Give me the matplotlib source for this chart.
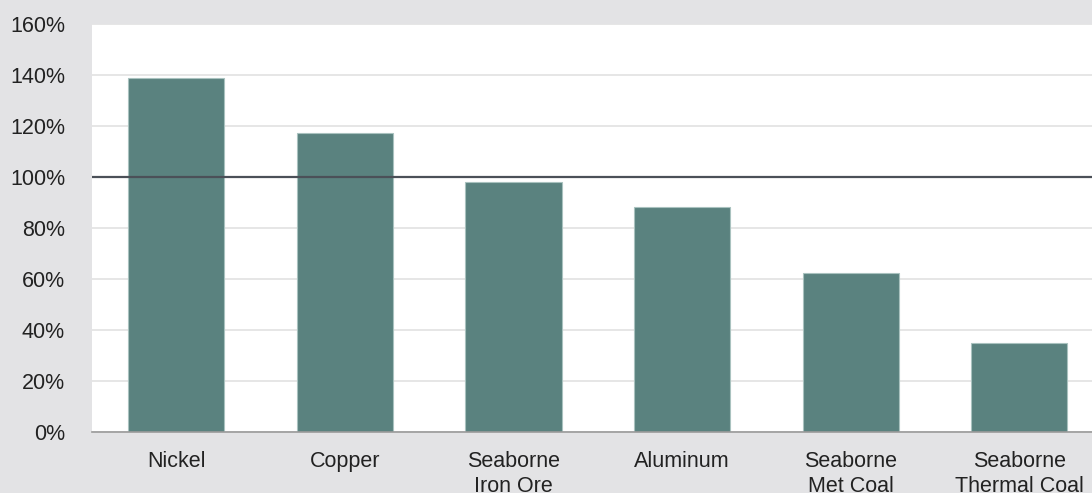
import matplotlib
matplotlib.use("Agg")
import matplotlib.pyplot as plt
from matplotlib.ticker import FuncFormatter

categories = ["Nickel", "Copper", "Seaborne\nIron Ore", "Aluminum", "Seaborne\nMet Coal", "Seaborne\nThermal Coal"]
values = [138.8, 117.2, 98.0, 88.2, 62.5, 34.8]
yticks = [0, 20, 40, 60, 80, 100, 120, 140, 160]

plt.rcParams['font.family'] = ['Liberation Sans', 'DejaVu Sans']

bg = "#e3e3e5"
fig = plt.figure(figsize=(10.92, 4.93), dpi=100, facecolor=bg)
ax = fig.add_axes([92/1092, 1 - 432/493, 1011.6/1092, (432-24)/493])
ax.set_facecolor("white")

x = list(range(len(categories)))
ax.bar(x, values, width=0.57, color="#5a827f", edgecolor="#a9c2bf", linewidth=0.8, zorder=2)

ax.set_xlim(-0.5, len(categories) - 0.5)
ax.set_ylim(0, 160)
ax.set_yticks(yticks)
ax.yaxis.set_major_formatter(FuncFormatter(lambda v, p: f"{v:.0f}%"))
ax.set_xticks(x)
ax.set_xticklabels(categories)

ax.grid(axis="y", color="#e2e2e2", linewidth=1.2, zorder=0)
ax.set_axisbelow(True)
ax.axhline(100, color="#4b5058", linewidth=1.6, zorder=3)

for s in ["top", "right", "left"]:
    ax.spines[s].set_visible(False)
ax.spines["bottom"].set_color("#9a9a9a")
ax.spines["bottom"].set_linewidth(1.2)
ax.spines["bottom"].set_zorder(4)

ax.tick_params(axis="both", length=0, labelsize=15.5, colors="#222222")
ax.tick_params(axis="y", pad=19.4)
ax.tick_params(axis="x", pad=14)

fig.savefig("out.png", dpi=100, facecolor=bg)
